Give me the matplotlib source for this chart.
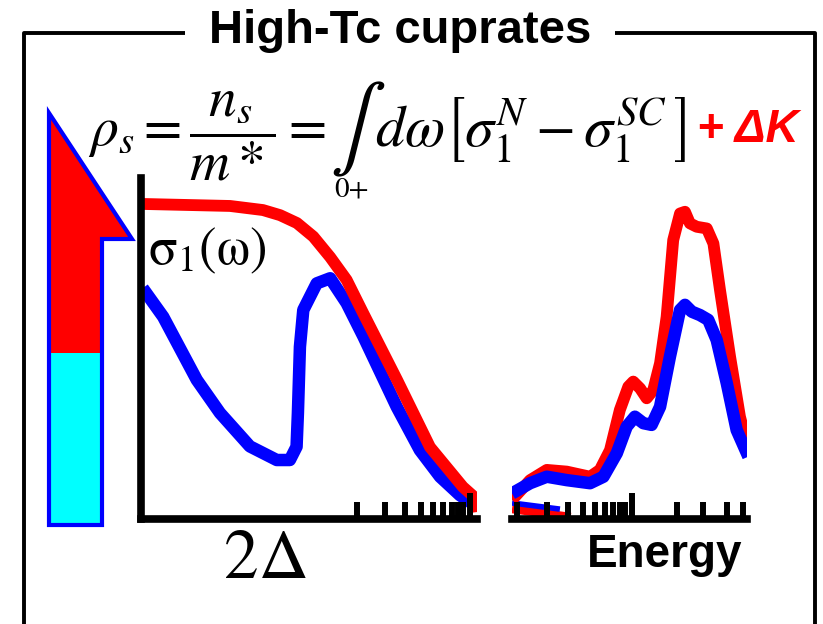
import numpy as np
import matplotlib
matplotlib.use("Agg")
import matplotlib.pyplot as plt
from matplotlib.patches import Polygon

plt.rcParams['mathtext.fontset'] = 'stix'

# left panel (low energy): x, sigma_1 in arbitrary units
left_x_normal = [0, 26.5, 36.3, 41.4, 46.4, 51.3, 56.3, 61.2, 66.1, 76.2, 86.0, 95.8, 99.1, 99.7]
left_y_normal = [92.4, 91.8, 90.6, 89.1, 86.8, 82.8, 76.8, 70.1, 60.4, 40.8, 21.1, 9.4, 6.5, 2.0]
left_x_sc = [0.5, 6.6, 16.6, 23.5, 32.4, 40.4, 44.3, 46.3, 46.7, 47.3, 48.3, 52.3,
             56.3, 61.2, 66.2, 76.1, 83.0, 89.0, 94.9, 99.7]
left_y_sc = [67.7, 59.3, 40.8, 31.1, 21.3, 17.3, 17.3, 21.2, 31.1, 50.5, 61.3, 69.1,
             70.6, 63.3, 53.5, 32.9, 20.2, 12.4, 7.0, 3.8]

# right panel (high energy)
right_x_normal = [0, 7.7, 14.8, 23.3, 33.2, 37.4, 41.7, 45.9, 49.5, 51.6, 54.5, 57.3,
                  60.1, 63.0, 65.8, 68.6, 71.5, 73.6, 75.7, 78.6, 82.9, 85.7, 88.5,
                  92.8, 97.0, 99.9]
right_y_normal = [5.6, 11.4, 14.4, 13.9, 12.4, 14.4, 20.2, 32.0, 38.8, 40.3, 38.3, 35.4,
                  37.8, 45.7, 59.3, 81.8, 89.6, 90.1, 86.7, 85.7, 85.2, 80.8, 67.2,
                  47.6, 30.0, 22.2]
right_x_sc = [0, 7.7, 14.8, 23.3, 33.2, 38.9, 44.6, 48.8, 52.3, 55.9, 59.4, 63.0, 67.2,
              71.5, 73.6, 76.5, 80.0, 83.5, 87.1, 91.4, 95.6, 100.6]
right_y_sc = [7.5, 10.5, 12.4, 11.4, 10.5, 12.4, 19.3, 27.1, 30.0, 28.1, 27.6, 32.9,
              47.6, 61.3, 62.8, 60.8, 59.8, 58.4, 52.5, 39.8, 26.1, 18.3]
# tails of the low-energy curves
tail_x_normal = [0, 25]
tail_y_normal = [2.9, 0.6]
tail_x_sc = [0, 20.4]
tail_y_sc = [4.7, 2.9]

# tick marks (log-like energy axis)
left_minor = [64.3, 72.6, 78.6, 83.3, 86.9, 89.9, 92.6, 94.3, 95.8]
left_major = [97.9]
right_minor = [2.1, 14.9, 23.8, 30.2, 35.3, 39.6, 43.0, 46.0, 48.1, 70.2, 81.3, 91.5, 98.3]
right_major = [51.1]

RED = '#ff0000'
BLUE = '#0000ff'
W, H = 823, 624

fig = plt.figure(figsize=(W / 100, H / 100), dpi=100)

# overlay in pixel units for frame, arrow and text
ov = fig.add_axes([0, 0, 1, 1])
ov.set_xlim(0, W)
ov.set_ylim(H, 0)
ov.axis('off')

# frame
ov.plot([185, 24, 24], [33, 33, 640], color='black', lw=2.8, solid_capstyle='butt', clip_on=False)
ov.plot([615, 815, 815], [33, 33, 640], color='black', lw=2.8, solid_capstyle='butt', clip_on=False)
ov.text(400, 31, 'High-Tc cuprates', ha='center', va='center', fontsize=34,
        fontweight='bold', family='Liberation Sans')

# arrow
split = 353
ov.add_patch(Polygon([[49, 113], [132, 239], [102, 239], [102, split], [49, split]],
                     closed=True, facecolor=RED, edgecolor='none'))
ov.add_patch(Polygon([[49, split], [102, split], [102, 525], [49, 525]],
                     closed=True, facecolor='#00ffff', edgecolor='none'))
ov.add_patch(Polygon([[49, 113], [132, 239], [102, 239], [102, 525], [49, 525]],
                     closed=True, facecolor='none', edgecolor=BLUE, lw=3, joinstyle='miter'))

# equation
ov.text(88, 146, r'$\rho_s = \dfrac{n_s}{m*} =$', fontsize=40, va='baseline', ha='left')
ov.text(330, 150, r'$\int$', fontsize=60, va='baseline', ha='left')
ov.text(334, 197, '0+', fontsize=21, va='baseline', ha='left', family='STIXGeneral')
ov.text(375, 146, r'$d\omega\left[\sigma_1^N - \sigma_1^{SC}\,\right]$', fontsize=42,
        va='baseline', ha='left')
ov.text(697, 142, '+ ΔK', fontsize=33, color=RED, fontweight='bold', fontstyle='italic',
        family='Liberation Sans', va='baseline', ha='left')

ov.text(148, 264, r'$\mathrm{\sigma_1(\omega)}$', fontsize=38, va='baseline', ha='left')
ov.text(224, 578, '2Δ', fontsize=50, va='baseline', ha='left', family='STIXGeneral')
ov.text(587, 567, 'Energy', fontsize=33, fontweight='bold', family='Liberation Sans',
        va='baseline', ha='left')


def setup(ax, minor, major, show_left):
    ax.set_xlim(0, 100)
    ax.set_ylim(0, 100)
    ax.patch.set_visible(False)
    for s in ['top', 'right']:
        ax.spines[s].set_visible(False)
    ax.spines['left'].set_visible(show_left)
    for s in ['left', 'bottom']:
        ax.spines[s].set_linewidth(5.5)
    ax.set_xticks(major)
    ax.set_xticks(minor, minor=True)
    ax.set_yticks([])
    ax.tick_params(axis='x', which='major', direction='in', length=19, width=4.3,
                   labelbottom=False)
    ax.tick_params(axis='x', which='minor', direction='in', length=12, width=4.3)
    ax.set_axisbelow(False)


axl = fig.add_axes([141 / W, (H - 519) / H, (477 - 141) / W, (519 - 178) / H])
setup(axl, left_minor, left_major, True)
axl.plot(left_x_sc, left_y_sc, color=BLUE, lw=9, solid_capstyle='butt', solid_joinstyle='round')
axl.plot(left_x_normal, left_y_normal, color=RED, lw=8.5, solid_capstyle='butt',
         solid_joinstyle='round')

axr = fig.add_axes([512 / W, (H - 519) / H, (747 - 512) / W, (519 - 178) / H])
setup(axr, right_minor, right_major, False)
axr.plot(tail_x_normal, tail_y_normal, color=RED, lw=6, solid_capstyle='butt')
axr.plot(tail_x_sc, tail_y_sc, color=BLUE, lw=4, solid_capstyle='butt')
axr.plot(right_x_normal, right_y_normal, color=RED, lw=8.5, solid_capstyle='butt',
         solid_joinstyle='round')
axr.plot(right_x_sc, right_y_sc, color=BLUE, lw=9, solid_capstyle='butt',
         solid_joinstyle='round')

fig.savefig('out.png', dpi=100)
